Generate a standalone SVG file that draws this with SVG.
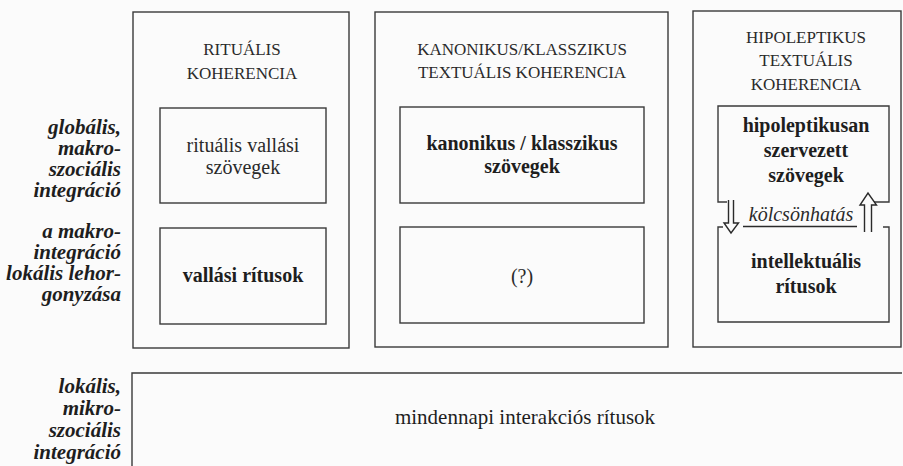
<svg xmlns="http://www.w3.org/2000/svg" width="903" height="466" viewBox="0 0 903 466" font-family="Liberation Serif">
<style>
.bx{fill:none;stroke:#3a3a3a;stroke-width:1.4}
.ln{fill:none;stroke:#2a2a2a;stroke-width:1.4}
.hd{font-size:17px;fill:#2a2a2a;text-anchor:middle}
.rg{font-size:20px;fill:#2a2a2a;text-anchor:middle}
.mn{font-size:21px;fill:#1e1e1e;text-anchor:middle}
.bd{font-size:20px;font-weight:bold;fill:#1e1e1e;text-anchor:middle}
.lb{font-size:21px;font-weight:bold;font-style:italic;fill:#1e1e1e;text-anchor:end}
.it{font-size:20px;font-style:italic;fill:#2a2a2a;text-anchor:middle}
</style>
<rect x="0" y="0" width="903" height="466" fill="#fbfbfb"/>
<g id="labels">
<text class="lb" font-family="Liberation Serif"><tspan x="121" y="134">globális,</tspan><tspan x="121" y="155">makro-</tspan><tspan x="121" y="176">szociális</tspan><tspan x="121" y="197">integráció</tspan></text>
<text class="lb" font-family="Liberation Serif"><tspan x="121" y="238">a makro-</tspan><tspan x="121" y="259">integráció</tspan><tspan x="121" y="280">lokális lehor-</tspan><tspan x="121" y="301">gonyzása</tspan></text>
<text class="lb" font-family="Liberation Serif"><tspan x="121" y="393">lokális,</tspan><tspan x="121" y="415">mikro-</tspan><tspan x="121" y="437">szociális</tspan><tspan x="121" y="459">integráció</tspan></text>
</g>
<g id="col-ritualis">
<rect class="bx" x="133" y="12" width="216" height="336"/>
<text class="hd" font-family="Liberation Serif"><tspan x="242" y="55">RITUÁLIS</tspan><tspan x="242" y="79">KOHERENCIA</tspan></text>
</g>
<g id="ritualis-szovegek">
<rect class="bx" x="160" y="108" width="166" height="95"/>
<text class="rg" font-family="Liberation Serif"><tspan x="243" y="152">rituális vallási</tspan><tspan x="243" y="174">szövegek</tspan></text>
</g>
<g id="vallasi-ritusok">
<rect class="bx" x="160" y="228" width="166" height="96"/>
<text class="bd" font-family="Liberation Serif" x="243" y="282">vallási rítusok</text>
</g>
<g id="col-kanonikus">
<rect class="bx" x="375" y="12" width="293" height="335"/>
<text class="hd" font-family="Liberation Serif"><tspan x="522" y="55">KANONIKUS/KLASSZIKUS</tspan><tspan x="522" y="78">TEXTUÁLIS KOHERENCIA</tspan></text>
</g>
<g id="kanonikus-szovegek">
<rect class="bx" x="400" y="107" width="244" height="96"/>
<text class="bd" font-family="Liberation Serif"><tspan x="522" y="150">kanonikus / klasszikus</tspan><tspan x="522" y="173">szövegek</tspan></text>
</g>
<g id="kerdojel">
<rect class="bx" x="400" y="227" width="244" height="96"/>
<text class="rg" font-family="Liberation Serif" x="522" y="283">(?)</text>
</g>
<g id="col-hipoleptikus">
<rect class="bx" x="693" y="11" width="208" height="336"/>
<text class="hd" font-family="Liberation Serif"><tspan x="806" y="43">HIPOLEPTIKUS</tspan><tspan x="806" y="66">TEXTUÁLIS</tspan><tspan x="806" y="90">KOHERENCIA</tspan></text>
</g>
<g id="hipoleptikus-szovegek">
<path class="bx" d="M727,202 H718 V106 H889 V202 H874"/>
<text class="bd" font-family="Liberation Serif"><tspan x="806" y="132">hipoleptikusan</tspan><tspan x="806" y="157">szervezett</tspan><tspan x="806" y="182">szövegek</tspan></text>
</g>
<g id="intellektualis-ritusok">
<path class="bx" d="M723,227 H718 V322 H889 V227 H883"/>
<text class="bd" font-family="Liberation Serif"><tspan x="806" y="268">intellektuális</tspan><tspan x="806" y="293">rítusok</tspan></text>
</g>
<g id="mindennapi">
<path class="bx" d="M902,373 H132 V470"/>
<text class="mn" font-family="Liberation Serif" x="525" y="424">mindennapi interakciós rítusok</text>
</g>
<g id="connectors">
<path class="ln" d="M728.5,200 V223 H724 L731,233 L738.5,223 H733.5 V200"/>
<path class="ln" d="M864.5,232 V205 H860 L868,193 L876.5,205 H871.5 V232"/>
<line class="ln" x1="743" y1="226.5" x2="857" y2="226.5"/>
<text class="it" font-family="Liberation Serif" x="801" y="221">kölcsönhatás</text>
</g>
</svg>
